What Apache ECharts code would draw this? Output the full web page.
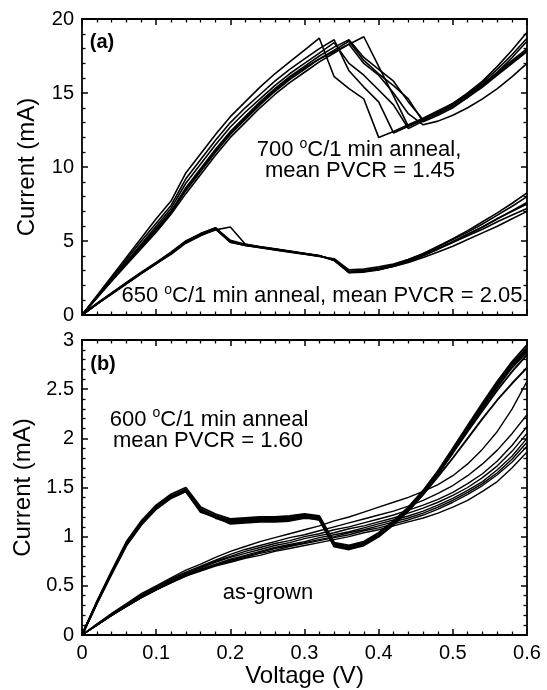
<!DOCTYPE html>
<html>
<head>
<meta charset="utf-8">
<script src="https://cdn.jsdelivr.net/npm/echarts@6/dist/echarts.min.js"></script>
<style>html,body{margin:0;padding:0;background:#fff}#c{width:547px;height:690px}</style>
</head>
<body>
<div id="c"></div>
<script>
// Voltage sample points (V)
const voltage = [0,0.02,0.04,0.06,0.08,0.10,0.12,0.14,0.16,0.18,0.20,0.22,0.24,0.26,0.28,0.30,0.32,0.34,0.36,0.38,0.40,0.42,0.44,0.46,0.48,0.50,0.52,0.54,0.56,0.58,0.60];

// (a) 700 C / 1 min anneal devices (mA)
const a700_1 = [0,1.3,2.6,3.9,5.2,6.5,7.7,9.6,10.9,12.2,13.4,14.4,15.4,16.3,17.1,17.9,18.7,16.1,15.3,14.6,12.0,12.4,12.85,13.3,13.8,14.3,14.9,15.6,16.4,17.2,18.0];
const a700_2 = [0,1.25,2.5,3.75,5.0,6.2,7.4,9.2,10.5,11.8,13.0,14.0,14.9,15.8,16.6,17.3,18.0,18.6,16.5,15.4,14.4,12.3,12.75,13.2,13.7,14.2,14.8,15.5,16.3,17.1,17.9];
const a700_3 = [0,1.2,2.4,3.6,4.8,6.0,7.2,8.9,10.2,11.5,12.7,13.7,14.6,15.5,16.3,17.0,17.7,18.4,17.0,16.2,15.2,14.2,12.6,13.1,13.6,14.1,14.7,15.4,16.2,17.0,17.8];
const a700_4 = [0,1.2,2.35,3.5,4.65,5.8,7.0,8.6,9.9,11.2,12.4,13.4,14.4,15.3,16.1,16.8,17.5,18.1,18.6,17.4,16.6,15.8,14.4,13.2,13.7,14.3,15.0,15.8,16.8,17.9,19.1];
const a700_5 = [0,1.15,2.3,3.45,4.6,5.75,6.9,8.4,9.7,11.0,12.2,13.2,14.2,15.1,15.9,16.6,17.3,17.9,18.5,17.2,16.3,15.5,14.6,13.05,13.5,14.0,14.7,15.5,16.4,17.4,18.5];
const a700_6 = [0,1.15,2.3,3.4,4.5,5.6,6.8,8.2,9.5,10.8,12.0,13.0,14.0,14.9,15.7,16.4,17.1,17.7,18.3,18.8,16.8,14.8,12.75,13.2,13.7,14.25,14.9,15.7,16.6,17.6,18.7];
const a700_7 = [0,1.18,2.35,3.5,4.7,5.85,7.0,8.5,9.8,11.1,12.3,13.3,14.3,15.2,16.0,16.7,17.3,17.8,18.3,17.0,16.2,15.0,13.6,12.85,13.1,13.5,14.0,14.6,15.3,16.1,17.0];

// (a) 650 C / 1 min anneal devices (mA)
const a650_1 = [0,0.75,1.45,2.15,2.85,3.5,4.2,4.95,5.45,5.85,5.0,4.75,4.6,4.45,4.3,4.15,4.0,3.7,2.9,2.95,3.1,3.35,3.7,4.1,4.6,5.1,5.6,6.15,6.75,7.35,8.0];
const a650_2 = [0,0.72,1.42,2.1,2.8,3.45,4.15,4.9,5.4,5.75,5.95,4.8,4.6,4.45,4.3,4.15,4.0,3.75,2.95,3.0,3.15,3.4,3.75,4.15,4.65,5.15,5.7,6.3,6.9,7.55,8.25];
const a650_3 = [0,0.78,1.5,2.2,2.9,3.55,4.25,5.0,5.5,5.9,4.95,4.7,4.55,4.4,4.25,4.1,3.95,3.8,3.05,3.1,3.25,3.45,3.75,4.1,4.5,4.95,5.45,5.95,6.5,7.05,7.6];
const a650_4 = [0,0.74,1.44,2.12,2.82,3.48,4.1,4.85,5.35,5.8,4.9,4.72,4.58,4.42,4.28,4.12,3.98,3.72,2.85,2.9,3.05,3.3,3.6,4.0,4.45,4.95,5.45,5.95,6.5,7.0,7.5];
const a650_5 = [0,0.76,1.47,2.17,2.87,3.52,4.22,4.98,5.5,5.88,5.05,4.78,4.62,4.47,4.32,4.17,4.02,3.68,2.88,2.93,3.08,3.32,3.65,4.02,4.45,4.9,5.35,5.8,6.3,6.75,7.2];
const a650_6 = [0,0.73,1.43,2.13,2.83,3.47,4.18,4.92,5.42,5.82,4.95,4.7,4.56,4.42,4.27,4.13,3.99,3.7,2.92,2.96,3.08,3.28,3.55,3.88,4.25,4.65,5.1,5.55,6.0,6.5,7.0];

// (b) 600 C / 1 min anneal devices (mA)
const b600_1 = [0,0.33,0.64,0.93,1.14,1.30,1.41,1.48,1.28,1.21,1.16,1.17,1.18,1.18,1.19,1.22,1.19,0.92,0.89,0.93,1.02,1.14,1.28,1.45,1.65,1.88,2.11,2.34,2.56,2.76,2.92];
const b600_2 = [0,0.32,0.62,0.91,1.12,1.28,1.39,1.46,1.26,1.19,1.14,1.15,1.16,1.16,1.17,1.20,1.17,0.90,0.87,0.91,1.00,1.12,1.26,1.43,1.63,1.86,2.09,2.32,2.54,2.74,2.90];
const b600_3 = [0,0.34,0.65,0.95,1.16,1.32,1.43,1.50,1.30,1.23,1.18,1.19,1.20,1.20,1.21,1.23,1.21,0.94,0.91,0.95,1.04,1.16,1.30,1.47,1.67,1.90,2.13,2.36,2.58,2.78,2.95];
const b600_4 = [0,0.33,0.63,0.92,1.13,1.29,1.40,1.47,1.27,1.20,1.13,1.14,1.15,1.15,1.16,1.19,1.18,0.93,0.88,0.92,1.01,1.13,1.27,1.44,1.64,1.85,2.07,2.28,2.49,2.68,2.85];
const b600_5 = [0,0.32,0.63,0.92,1.13,1.29,1.40,1.46,1.25,1.20,1.17,1.18,1.19,1.19,1.20,1.21,1.18,0.91,0.89,0.94,1.03,1.15,1.29,1.46,1.66,1.87,2.09,2.31,2.52,2.72,2.88];
const b600_6 = [0,0.33,0.64,0.93,1.14,1.30,1.41,1.47,1.27,1.21,1.15,1.16,1.17,1.17,1.18,1.21,1.20,0.92,0.90,0.94,1.02,1.13,1.27,1.43,1.61,1.80,2.00,2.20,2.39,2.56,2.72];

// (b) as-grown devices (mA)
const bAs_1 = [0,0.11,0.22,0.32,0.42,0.50,0.58,0.66,0.72,0.79,0.85,0.90,0.95,0.99,1.03,1.07,1.11,1.16,1.20,1.25,1.30,1.35,1.40,1.46,1.53,1.62,1.74,1.89,2.07,2.30,2.58];
const bAs_2 = [0,0.11,0.21,0.31,0.41,0.49,0.57,0.64,0.70,0.76,0.82,0.87,0.91,0.95,0.99,1.02,1.06,1.10,1.14,1.18,1.22,1.26,1.31,1.37,1.44,1.52,1.62,1.74,1.88,2.05,2.24];
const bAs_3 = [0,0.10,0.21,0.31,0.40,0.48,0.56,0.63,0.69,0.75,0.80,0.85,0.89,0.93,0.96,1.00,1.03,1.07,1.10,1.14,1.18,1.22,1.27,1.32,1.38,1.45,1.54,1.64,1.77,1.93,2.12];
const bAs_4 = [0,0.10,0.20,0.30,0.39,0.47,0.55,0.62,0.68,0.74,0.79,0.83,0.87,0.91,0.94,0.98,1.01,1.04,1.08,1.11,1.15,1.19,1.24,1.29,1.35,1.42,1.50,1.60,1.72,1.87,2.05];
const bAs_5 = [0,0.10,0.20,0.30,0.39,0.47,0.54,0.61,0.67,0.72,0.77,0.81,0.85,0.89,0.92,0.95,0.99,1.02,1.05,1.09,1.13,1.17,1.21,1.26,1.32,1.39,1.47,1.56,1.68,1.82,2.00];
const bAs_6 = [0,0.10,0.20,0.29,0.38,0.46,0.54,0.61,0.66,0.71,0.76,0.80,0.84,0.88,0.91,0.94,0.97,1.00,1.04,1.07,1.11,1.15,1.19,1.24,1.30,1.37,1.45,1.54,1.65,1.79,1.96];
const bAs_7 = [0,0.10,0.20,0.29,0.38,0.46,0.53,0.60,0.66,0.71,0.75,0.79,0.83,0.86,0.90,0.93,0.96,0.99,1.02,1.06,1.09,1.13,1.17,1.22,1.28,1.35,1.43,1.52,1.63,1.76,1.92];
const bAs_8 = [0,0.10,0.20,0.29,0.38,0.46,0.53,0.60,0.65,0.70,0.74,0.78,0.81,0.85,0.88,0.91,0.94,0.97,1.00,1.04,1.07,1.11,1.15,1.19,1.24,1.30,1.37,1.46,1.56,1.70,1.86];

const panelA = [a700_1,a700_2,a700_3,a700_4,a700_5,a700_6,a700_7,a650_1,a650_2,a650_3,a650_4,a650_5,a650_6];
const panelB600 = [b600_1,b600_2,b600_3,b600_4,b600_5,b600_6];
const panelBAs = [bAs_1,bAs_2,bAs_3,bAs_4,bAs_5,bAs_6,bAs_7,bAs_8];

const FF = '"Liberation Sans", Arial, Helvetica, sans-serif';
const chart = echarts.init(document.getElementById('c'), null, {renderer:'canvas'});

function xAx(grid, pos, labels, name) {
  return {
    type:'value', gridIndex:grid, position:pos, min:0, max:0.6, interval:0.1,
    axisLine:{show:true, onZero:false, lineStyle:{color:'#000', width:1.8}},
    axisTick:{show:true, inside:true, length:6, lineStyle:{color:'#000', width:1.5}},
    minorTick:{show:true, splitNumber:5, length:3.5, lineStyle:{color:'#000', width:1.3}},
    splitLine:{show:false}, minorSplitLine:{show:false},
    axisLabel:{show:labels, color:'#000', fontSize:20, fontFamily:FF, margin:8},
    name: name || '', nameLocation:'middle', nameGap:26,
    nameTextStyle:{color:'#000', fontSize:24, fontFamily:FF}
  };
}
function yAx(grid, pos, labels, max, interval, name) {
  return {
    type:'value', gridIndex:grid, position:pos, min:0, max:max, interval:interval,
    axisLine:{show:true, onZero:false, lineStyle:{color:'#000', width:1.8}},
    axisTick:{show:true, inside:true, length:6, lineStyle:{color:'#000', width:1.5}},
    minorTick:{show:true, splitNumber:5, length:3.5, lineStyle:{color:'#000', width:1.3}},
    splitLine:{show:false}, minorSplitLine:{show:false},
    axisLabel:{show:labels, color:'#000', fontSize:20, fontFamily:FF, margin:8},
    name: name || '', nameLocation:'middle', nameGap:43,
    nameTextStyle:{color:'#000', fontSize:24, fontFamily:FF}
  };
}

const series = [];
function addLines(list, xi, yi, w) {
  list.forEach(arr => series.push({
    type:'line', xAxisIndex:xi, yAxisIndex:yi, showSymbol:false, symbol:'none',
    lineStyle:{color:'#000', width:w}, data: voltage.map((v,i)=>[v, arr[i]])
  }));
}
addLines(panelA, 0, 0, 1.6);
addLines(panelB600, 2, 2, 1.9);
addLines(panelBAs, 2, 2, 1.4);

function label(x, y, parts, size, bold) {
  const rich = {
    n:{fontSize:size, fontFamily:FF, fontWeight: bold?'bold':'normal', fill:'#000', color:'#000', lineHeight:26},
    s:{fontSize:Math.round(size*0.62), fontFamily:FF, fill:'#000', color:'#000', verticalAlign:'top', lineHeight:14}
  };
  return {type:'text', x:x, y:y, silent:true,
    style:{text:parts, rich:rich, fill:'#000', fontSize:size, fontFamily:FF,
      align:'center', verticalAlign:'middle', textAlign:'center', textVerticalAlign:'middle'}};
}

const option = {
  animation:false,
  backgroundColor:'#fff',
  grid:[{left:82, top:19, width:445, height:296}, {left:82, top:340, width:445, height:295}],
  xAxis:[xAx(0,'bottom',false), xAx(0,'top',false), xAx(1,'bottom',true,'Voltage (V)'), xAx(1,'top',false)],
  yAxis:[yAx(0,'left',true,20,5,'Current (mA)'), yAx(0,'right',false,20,5), yAx(1,'left',true,3,0.5,'Current (mA)'), yAx(1,'right',false,3,0.5)],
  series:series,
  graphic:[
    label(102, 42.5, '{n|(a)}', 20, true),
    label(103, 364.5, '{n|(b)}', 20, true),
    label(359, 150.3, '{n|700 }{s|o}{n|C/1 min anneal,}', 22),
    label(360, 170.6, '{n|mean PVCR = 1.45}', 22),
    label(322, 295.8, '{n|650 }{s|o}{n|C/1 min anneal, mean PVCR = 2.05}', 22),
    label(209, 419.6, '{n|600 }{s|o}{n|C/1 min anneal}', 22),
    label(208, 440.6, '{n|mean PVCR = 1.60}', 22),
    label(268, 593.3, '{n|as-grown}', 22)
  ]
};
chart.setOption(option);
</script>
</body>
</html>
